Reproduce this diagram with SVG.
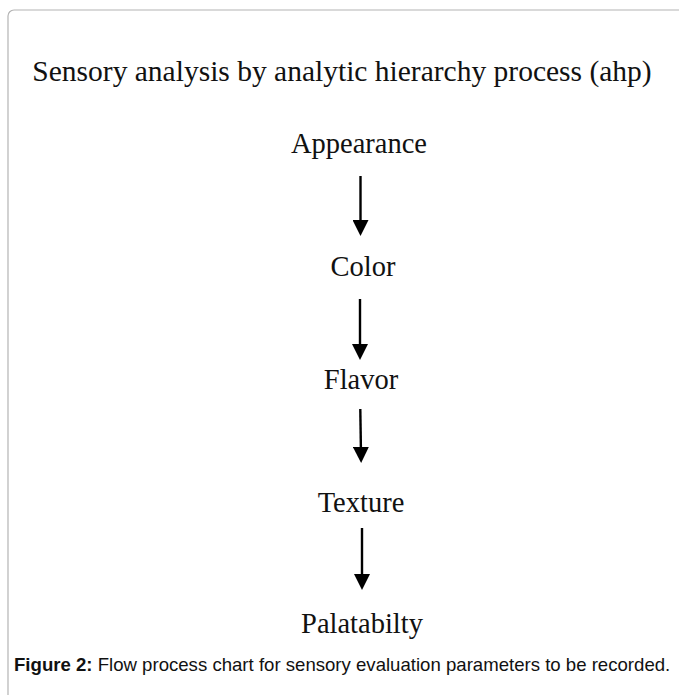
<svg xmlns="http://www.w3.org/2000/svg" width="679" height="695" viewBox="0 0 679 695">
  <style>
    .frame { fill: #ffffff; stroke: #b4b4b4; stroke-width: 1.2; }
    .label { font-family: "Liberation Serif", "Times New Roman", serif; font-size: 28.5px; fill: #111; text-anchor: middle; }
    .title { font-family: "Liberation Serif", "Times New Roman", serif; font-size: 29.5px; fill: #111; text-anchor: middle; }
    .caption { font-family: "Liberation Sans", Arial, sans-serif; font-size: 18.6px; fill: #111; }
    .shaft { stroke: #000; stroke-width: 2.4; fill: none; marker-end: url(#head); }
  </style>
  <defs>
    <!-- solid triangular head, tip 8 units past the shaft end -->
    <marker id="head" viewBox="0 0 16 16" refX="8" refY="8" markerWidth="16" markerHeight="16" markerUnits="userSpaceOnUse" orient="auto">
      <path d="M0,0 L16,8 L0,16 Z" fill="#000"/>
    </marker>
  </defs>
  <rect width="679" height="695" fill="#ffffff"/>
  <!-- panel outline, open to the right and bottom -->
  <rect class="frame" x="8" y="10" width="700" height="720" rx="6" ry="6"/>

  <text class="title" x="342" y="81">Sensory analysis by analytic hierarchy process (ahp)</text>

  <g id="appearance"><text class="label" x="359" y="153">Appearance</text></g>
  <g id="color"><text class="label" x="363" y="276">Color</text></g>
  <g id="flavor"><text class="label" x="361" y="389">Flavor</text></g>
  <g id="texture"><text class="label" x="361" y="512">Texture</text></g>
  <g id="palatabilty"><text class="label" x="362" y="633">Palatabilty</text></g>

  <g id="connectors">
    <line class="shaft" x1="360.5" y1="176" x2="360.5" y2="228"/>
    <line class="shaft" x1="360" y1="299" x2="360" y2="352"/>
    <line class="shaft" x1="360.3" y1="409" x2="361" y2="455"/>
    <line class="shaft" x1="362" y1="528" x2="362" y2="582"/>
  </g>

  <text class="caption" x="14" y="671"><tspan font-weight="bold">Figure 2:</tspan> Flow process chart for sensory evaluation parameters to be recorded.</text>
</svg>
